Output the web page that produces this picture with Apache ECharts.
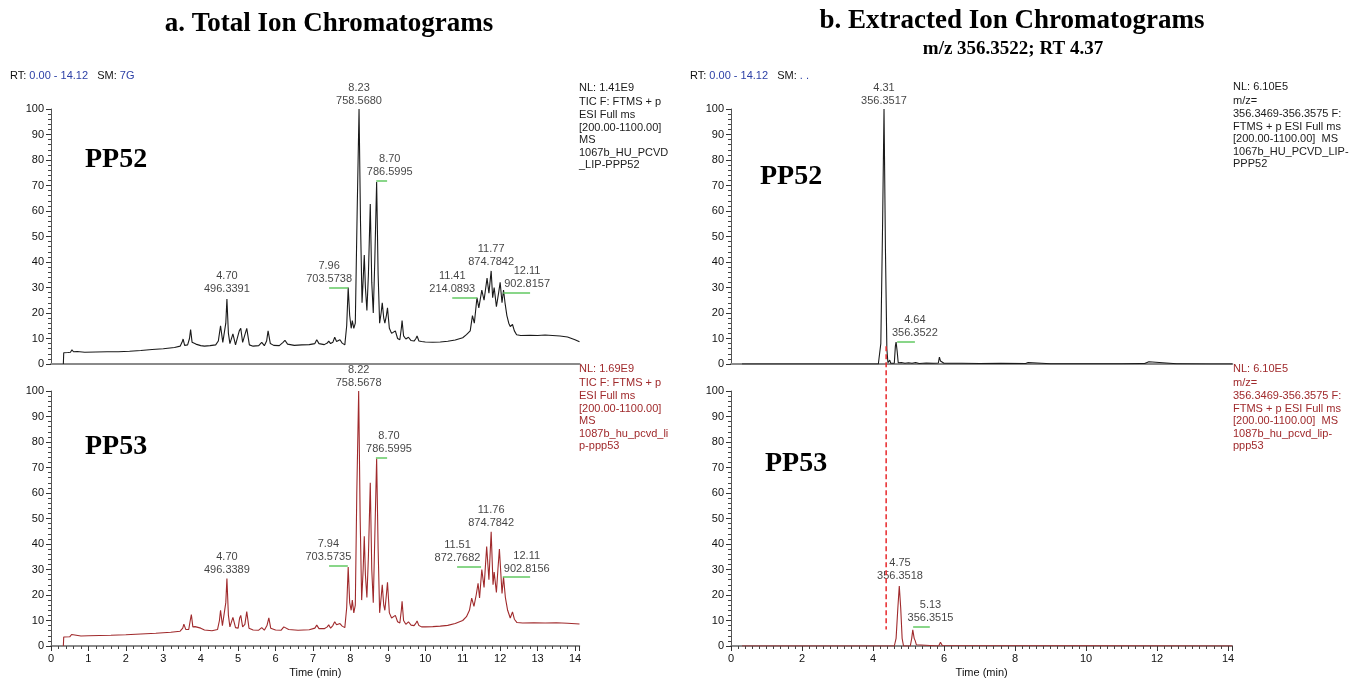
<!DOCTYPE html>
<html><head><meta charset="utf-8">
<script src="https://cdn.jsdelivr.net/npm/echarts@6/dist/echarts.min.js"></script>
<style>html,body{margin:0;padding:0;background:#fff}#c{width:1349px;height:680px}</style>
</head><body><div id="c"></div>
<script>
// ---------- data ----------
const X_MAX = 14.12;
const yTickLabels = [0,10,20,30,40,50,60,70,80,90,100];

const tic52 = [[0.33,0],[0.34,4.4],[0.45,4.5],[0.52,4.6],[0.56,5.6],[0.6,4.8],[0.7,4.9],[0.9,4.6],[1.2,4.7],[1.5,4.8],[1.8,4.8],[2.1,5.0],[2.4,5.3],[2.7,5.7],[3.0,6.0],[3.3,6.5],[3.45,7.0],[3.5,8.5],[3.53,9.8],[3.57,7.3],[3.65,7.5],[3.7,10],[3.73,13.5],[3.77,8.5],[3.82,8.3],[3.87,7.8],[3.92,8.2],[4.0,7.2],[4.1,7.0],[4.25,7.2],[4.4,7.5],[4.47,9],[4.53,15],[4.59,8.5],[4.63,8],[4.67,16],[4.70,25.5],[4.74,12],[4.78,8],[4.86,11.8],[4.93,7.5],[4.98,8],[5.03,13],[5.07,14],[5.12,8.5],[5.17,9],[5.23,14],[5.3,7.5],[5.4,7],[5.55,7.2],[5.63,8.5],[5.7,7.2],[5.76,9],[5.8,13],[5.86,8],[5.95,7.3],[6.1,7.2],[6.2,8.5],[6.25,9.3],[6.32,7.8],[6.5,7.3],[6.7,7.5],[6.9,7.6],[7.05,8],[7.1,9.5],[7.16,8],[7.3,7.6],[7.38,8.2],[7.42,9],[7.47,8],[7.53,8.5],[7.58,10.5],[7.63,8.8],[7.68,8.6],[7.72,9.5],[7.78,8.2],[7.85,7.5],[7.9,15],[7.94,30],[7.98,19],[8.02,14],[8.05,17],[8.09,14],[8.13,16],[8.18,60],[8.23,100],[8.27,55],[8.31,24],[8.34,33],[8.37,42.7],[8.4,30],[8.44,21],[8.48,35],[8.53,62.7],[8.57,32],[8.61,20],[8.65,40],[8.70,71.4],[8.74,35],[8.78,16],[8.82,20],[8.85,24],[8.89,18],[8.92,16],[8.96,19],[8.99,22],[9.04,14],[9.1,12],[9.15,11.5],[9.2,13],[9.26,10],[9.32,9.5],[9.36,14],[9.38,17],[9.42,11],[9.48,9.8],[9.55,10.5],[9.62,9.2],[9.7,9],[9.75,10],[9.78,11],[9.83,9],[9.9,8.8],[10.0,8.6],[10.2,8.5],[10.4,8.6],[10.6,8.9],[10.8,9.4],[11.0,10.3],[11.1,11.5],[11.2,13],[11.26,19],[11.31,16],[11.38,26],[11.43,22],[11.51,29],[11.57,25],[11.65,33.7],[11.7,27.8],[11.76,36.5],[11.8,26],[11.84,30],[11.9,22.5],[11.96,28],[12.0,32],[12.05,24],[12.09,29],[12.13,24],[12.18,19],[12.23,16],[12.27,14.7],[12.33,15.5],[12.38,13],[12.44,11.5],[12.55,11.2],[12.8,11.3],[13.0,11.2],[13.2,11.4],[13.4,11.2],[13.6,11],[13.8,10.6],[14.0,9.5],[14.12,8.7]];

const tic53 = [[0.33,0],[0.34,3.5],[0.5,3.6],[0.55,4.5],[0.6,3.8],[0.8,3.9],[1.0,4.0],[1.3,4.1],[1.6,4.2],[2.0,4.4],[2.4,4.7],[2.8,5.0],[3.2,5.4],[3.45,5.8],[3.52,7],[3.55,8.6],[3.6,6.5],[3.68,6.5],[3.72,10],[3.75,12.3],[3.79,7.5],[3.85,7.6],[3.9,7.8],[4.0,7.0],[4.1,6.3],[4.3,6.0],[4.45,6.5],[4.5,10],[4.53,14],[4.58,8],[4.63,7.5],[4.67,17],[4.70,26.5],[4.74,12],[4.78,7.5],[4.86,11.2],[4.93,7.2],[5.0,7],[5.04,11],[5.07,12],[5.12,7.5],[5.18,8.5],[5.23,13.5],[5.29,7],[5.4,6.3],[5.55,6.2],[5.63,7.2],[5.7,6.2],[5.77,8],[5.82,11],[5.87,7],[6.0,6.3],[6.15,6.2],[6.22,7.5],[6.27,7.8],[6.35,6.5],[6.6,6.2],[6.9,6.4],[7.05,7],[7.1,8.2],[7.16,6.8],[7.3,6.8],[7.38,7.5],[7.42,8.3],[7.47,7],[7.53,8],[7.58,9.5],[7.63,8.3],[7.68,7.8],[7.72,8.8],[7.78,7.8],[7.85,7.2],[7.9,15],[7.94,31],[7.98,17],[8.02,14],[8.05,18],[8.09,13],[8.13,16],[8.17,60],[8.22,100],[8.26,50],[8.3,18],[8.34,30],[8.37,43],[8.4,28],[8.44,19],[8.48,35],[8.53,64],[8.57,30],[8.61,17],[8.65,42],[8.70,73.5],[8.74,38],[8.78,13],[8.82,19],[8.85,24],[8.89,16],[8.92,14],[8.96,20],[8.99,25],[9.04,13],[9.1,11],[9.15,11],[9.2,12],[9.26,9.5],[9.32,9],[9.36,14],[9.38,17.5],[9.42,10],[9.48,8.5],[9.55,9.5],[9.62,8.2],[9.7,8],[9.75,9],[9.78,9.8],[9.83,8],[9.9,7.5],[10.0,7.5],[10.2,7.6],[10.4,7.8],[10.6,8.1],[10.8,8.8],[11.0,10],[11.1,11.5],[11.18,14],[11.24,18.8],[11.3,15.5],[11.36,20],[11.41,24.6],[11.45,18.8],[11.51,30],[11.57,23],[11.64,39],[11.7,26],[11.76,44.8],[11.81,24],[11.84,29],[11.9,21],[11.94,30],[11.98,38],[12.05,20.6],[12.09,27],[12.14,19],[12.2,14],[12.27,11],[12.33,13.4],[12.38,10.5],[12.45,9.2],[12.6,9.0],[12.9,9.1],[13.2,9.0],[13.5,9.1],[13.8,8.9],[14.12,8.6]];

const eic52 = [[0.31,0],[1,0],[2,0],[3,0],[4,0],[4.15,0],[4.22,8],[4.27,55],[4.31,100],[4.35,45],[4.39,6],[4.42,0.5],[4.47,1.5],[4.5,0.3],[4.55,0.8],[4.6,0.3],[4.63,7],[4.65,8.6],[4.68,5],[4.71,0.5],[4.8,0.6],[4.9,0.3],[5.0,0.5],[5.1,0.3],[5.2,0.6],[5.3,0.2],[5.5,0.4],[5.7,0.3],[5.84,0.4],[5.87,2.7],[5.9,1.2],[5.95,0.8],[6.0,0.3],[6.5,0.3],[7.0,0.2],[7.6,0.3],[8.3,0.2],[8.37,0.6],[8.42,0.1],[9,0.1],[10,0.1],[11,0.1],[11.55,0.2],[11.6,0.8],[11.65,0.2],[11.77,0.9],[11.82,0.2],[12.55,0.1],[12.6,0.5],[12.65,0.1],[13.5,0],[14.12,0]];

const eic53 = [[0.31,0],[1,0],[2,0],[3,0],[4,0],[4.6,0],[4.65,3],[4.7,15],[4.74,23.5],[4.78,15],[4.82,3],[4.86,0],[5.05,0],[5.09,3],[5.12,6.3],[5.16,3],[5.19,2],[5.22,0.5],[5.25,0],[5.85,0],[5.9,1.5],[5.95,0.2],[6.0,0],[14.12,0]];

// peak annotations: [anchor time, anchor value, RT text, m/z text]
const labTic52 = [[4.70,26,'4.70','496.3391'],[7.43,30,'7.96','703.5738'],[8.23,100,'8.23','758.5680'],[9.05,72,'8.70','786.5995'],[10.72,26,'11.41','214.0893'],[11.76,36.5,'11.77','874.7842'],[12.72,28,'12.11','902.8157']];
const labTic53 = [[4.70,26.5,'4.70','496.3389'],[7.41,31.5,'7.94','703.5735'],[8.22,100,'8.22','758.5678'],[9.03,74,'8.70','786.5995'],[10.86,31,'11.51','872.7682'],[11.76,44.8,'11.76','874.7842'],[12.71,27,'12.11','902.8156']];
const labEic52 = [[4.31,100,'4.31','356.3517'],[5.18,8.8,'4.64','356.3522']];
const labEic53 = [[4.76,24,'4.75','356.3518'],[5.62,7.5,'5.13','356.3515']];
// green leader segments: [t1, t2, value]
const leadTic52 = [[7.43,7.94,30],[8.69,8.98,72],[10.72,11.38,26],[12.08,12.8,28]];
const leadTic53 = [[7.43,7.93,31.5],[8.68,8.98,74],[10.85,11.49,31],[12.07,12.8,27]];
const leadEic52 = [[4.68,5.18,8.8]];
const leadEic53 = [[5.13,5.6,7.5]];
// RT marker (dashed): [time, value in upper EIC, value in lower EIC]
const rtMarker = [4.37, 7, 6.5];

// ---------- chart ----------
const SANS = 'Liberation Sans, Arial, Helvetica, sans-serif';
const SERIF = 'Liberation Serif, Times New Roman, serif';
const BLACK = '#1a1a1a';
const RED = '#a02a2c';

const grids = [
  {left:51, top:109, width:528.5, height:255},
  {left:51, top:391, width:528.5, height:255},
  {left:731, top:109, width:501.3, height:255},
  {left:731, top:391, width:501.3, height:255}
];

function xAx(i, interval, bottom){
  return {
    type:'value', gridIndex:i, min:0, max:X_MAX, interval:interval,
    axisLine:{show:true, onZero:false, lineStyle:{color: bottom ? '#666' : '#8a8a8a', width: bottom?1.5:2}},
    axisTick:{show:bottom, length:5, lineStyle:{color:'#333'}},
    minorTick:{show:bottom, splitNumber: interval===1?5:10, length:3, lineStyle:{color:'#444'}},
    axisLabel:{show:bottom, fontSize:11, color:'#111', fontFamily:SANS, margin:7, showMaxLabel:false},
    splitLine:{show:false}, minorSplitLine:{show:false},
    name: bottom ? 'Time (min)' : '', nameLocation:'middle', nameGap:21,
    nameTextStyle:{fontSize:11, color:'#111', fontFamily:SANS}
  };
}
function yAx(i){
  return {
    type:'value', gridIndex:i, min:0, max:100, interval:10,
    axisLine:{show:true, lineStyle:{color:'#555', width:1}},
    axisTick:{show:true, length:5, lineStyle:{color:'#333'}},
    minorTick:{show:true, splitNumber:5, length:3, lineStyle:{color:'#444'}},
    axisLabel:{fontSize:11, color:'#111', fontFamily:SANS, margin:7,
      formatter: v => yTickLabels.indexOf(v) >= 0 ? String(v) : ''},
    splitLine:{show:false}
  };
}
function trace(i, data, color){
  return {type:'line', xAxisIndex:i, yAxisIndex:i, data:data, showSymbol:false, symbol:'none',
    lineStyle:{color:color, width:1.1}, itemStyle:{color:color}, silent:true, z:3};
}
function labels(i, lab, lead){
  return {type:'scatter', xAxisIndex:i, yAxisIndex:i, clip:false, symbolSize:0.01, silent:true, z:5,
    data: lab.map(d => ({value:[d[0], d[1]], txt: d[2] + '\n' + d[3]})),
    itemStyle:{color:'rgba(0,0,0,0)'},
    label:{show:true, position:'top', distance:2, fontSize:11, lineHeight:13, color:'#111', fontFamily:SANS,
      formatter: p => p.data.txt},
    markLine:{silent:true, symbol:'none', animation:false, label:{show:false},
      lineStyle:{color:'#62c862', width:1.5, type:'solid', opacity:1},
      emphasis:{disabled:true},
      data: lead.map(d => [{coord:[d[0], d[2]], lineStyle:{color:'#62c862'}}, {coord:[d[1], d[2]]}])}
  };
}

function nlBlock(id, x, y, first, rest, color){
  return [
    {type:'text', id:id+'a', left:x, top:y-7, silent:true,
      style:{text:first, fill:color, font:'11px '+SANS}},
    {type:'text', id:id+'b', left:x, top:y+7, silent:true,
      style:{text:rest.join('\n'), fill:color, font:'11px '+SANS, lineHeight:12.6}}
  ];
}
const blue = '#2b3fa6';
const graphics = [
  {type:'text', id:'t1', x:329, y:24, silent:true, style:{text:'a. Total Ion Chromatograms', fill:'#000', font:'bold 27px '+SERIF, textAlign:'center', textVerticalAlign:'middle'}},
  {type:'text', id:'t2', x:1012, y:21, silent:true, style:{text:'b. Extracted Ion Chromatograms', fill:'#000', font:'bold 27px '+SERIF, textAlign:'center', textVerticalAlign:'middle'}},
  {type:'text', id:'t3', x:1013, y:49, silent:true, style:{text:'m/z 356.3522; RT 4.37', fill:'#000', font:'bold 19px '+SERIF, textAlign:'center', textVerticalAlign:'middle'}},
  {type:'text', id:'rt1', left:10, top:70, silent:true, style:{text:'{k|RT:} {b|0.00 - 14.12}   {k|SM:} {b|7G}', font:'11px '+SANS,
    rich:{k:{fill:'#111', fontSize:11, fontFamily:SANS}, b:{fill:blue, fontSize:11, fontFamily:SANS}}}},
  {type:'text', id:'rt2', left:690, top:70, silent:true, style:{text:'{k|RT:} {b|0.00 - 14.12}   {k|SM:} {b|. .}', font:'11px '+SANS,
    rich:{k:{fill:'#111', fontSize:11, fontFamily:SANS}, b:{fill:blue, fontSize:11, fontFamily:SANS}}}},
  {type:'text', id:'pp1', left:85, top:162-16, silent:true, style:{text:'PP52', fill:'#000', font:'bold 28px '+SERIF}},
  {type:'text', id:'pp2', left:85, top:449-16, silent:true, style:{text:'PP53', fill:'#000', font:'bold 28px '+SERIF}},
  {type:'text', id:'pp3', left:760, top:179-16, silent:true, style:{text:'PP52', fill:'#000', font:'bold 28px '+SERIF}},
  {type:'text', id:'pp4', left:765, top:466-16, silent:true, style:{text:'PP53', fill:'#000', font:'bold 28px '+SERIF}}
].concat(
  nlBlock('nl1', 579, 89, 'NL: 1.41E9', ['TIC F: FTMS + p','ESI Full ms','[200.00-1100.00]','MS','1067b_HU_PCVD','_LIP-PPP52'], BLACK),
  nlBlock('nl2', 579, 370, 'NL: 1.69E9', ['TIC F: FTMS + p','ESI Full ms','[200.00-1100.00]','MS','1087b_hu_pcvd_li','p-ppp53'], RED),
  nlBlock('nl3', 1233, 88, 'NL: 6.10E5', ['m/z=','356.3469-356.3575 F:','FTMS + p ESI Full ms','[200.00-1100.00]  MS','1067b_HU_PCVD_LIP-','PPP52'], BLACK),
  nlBlock('nl4', 1233, 370, 'NL: 6.10E5', ['m/z=','356.3469-356.3575 F:','FTMS + p ESI Full ms','[200.00-1100.00]  MS','1087b_hu_pcvd_lip-','ppp53'], RED)
);

const chart = echarts.init(document.getElementById('c'), null, {renderer:'canvas'});
chart.setOption({
  animation:false,
  backgroundColor:'#fff',
  grid: grids,
  xAxis: [xAx(0,1,false), xAx(1,1,true), xAx(2,2,false), xAx(3,2,true)],
  yAxis: [yAx(0), yAx(1), yAx(2), yAx(3)],
  series: [
    trace(0, tic52, BLACK), trace(1, tic53, RED), trace(2, eic52, BLACK), trace(3, eic53, RED),
    labels(0, labTic52, leadTic52), labels(1, labTic53, leadTic53),
    labels(2, labEic52, leadEic52), labels(3, labEic53, leadEic53)
  ],
  graphic: {elements: graphics}
});
const pTop = chart.convertToPixel({gridIndex:2}, [rtMarker[0], rtMarker[1]]);
const pBot = chart.convertToPixel({gridIndex:3}, [rtMarker[0], rtMarker[2]]);
chart.setOption({graphic:{elements: graphics.concat([
  {type:'line', id:'rtline', silent:true, z:10, shape:{x1:pTop[0], y1:pTop[1], x2:pBot[0], y2:pBot[1]},
   style:{stroke:'#e8282b', lineWidth:1.5, lineDash:[5,3]}}
])}});
</script></body></html>
